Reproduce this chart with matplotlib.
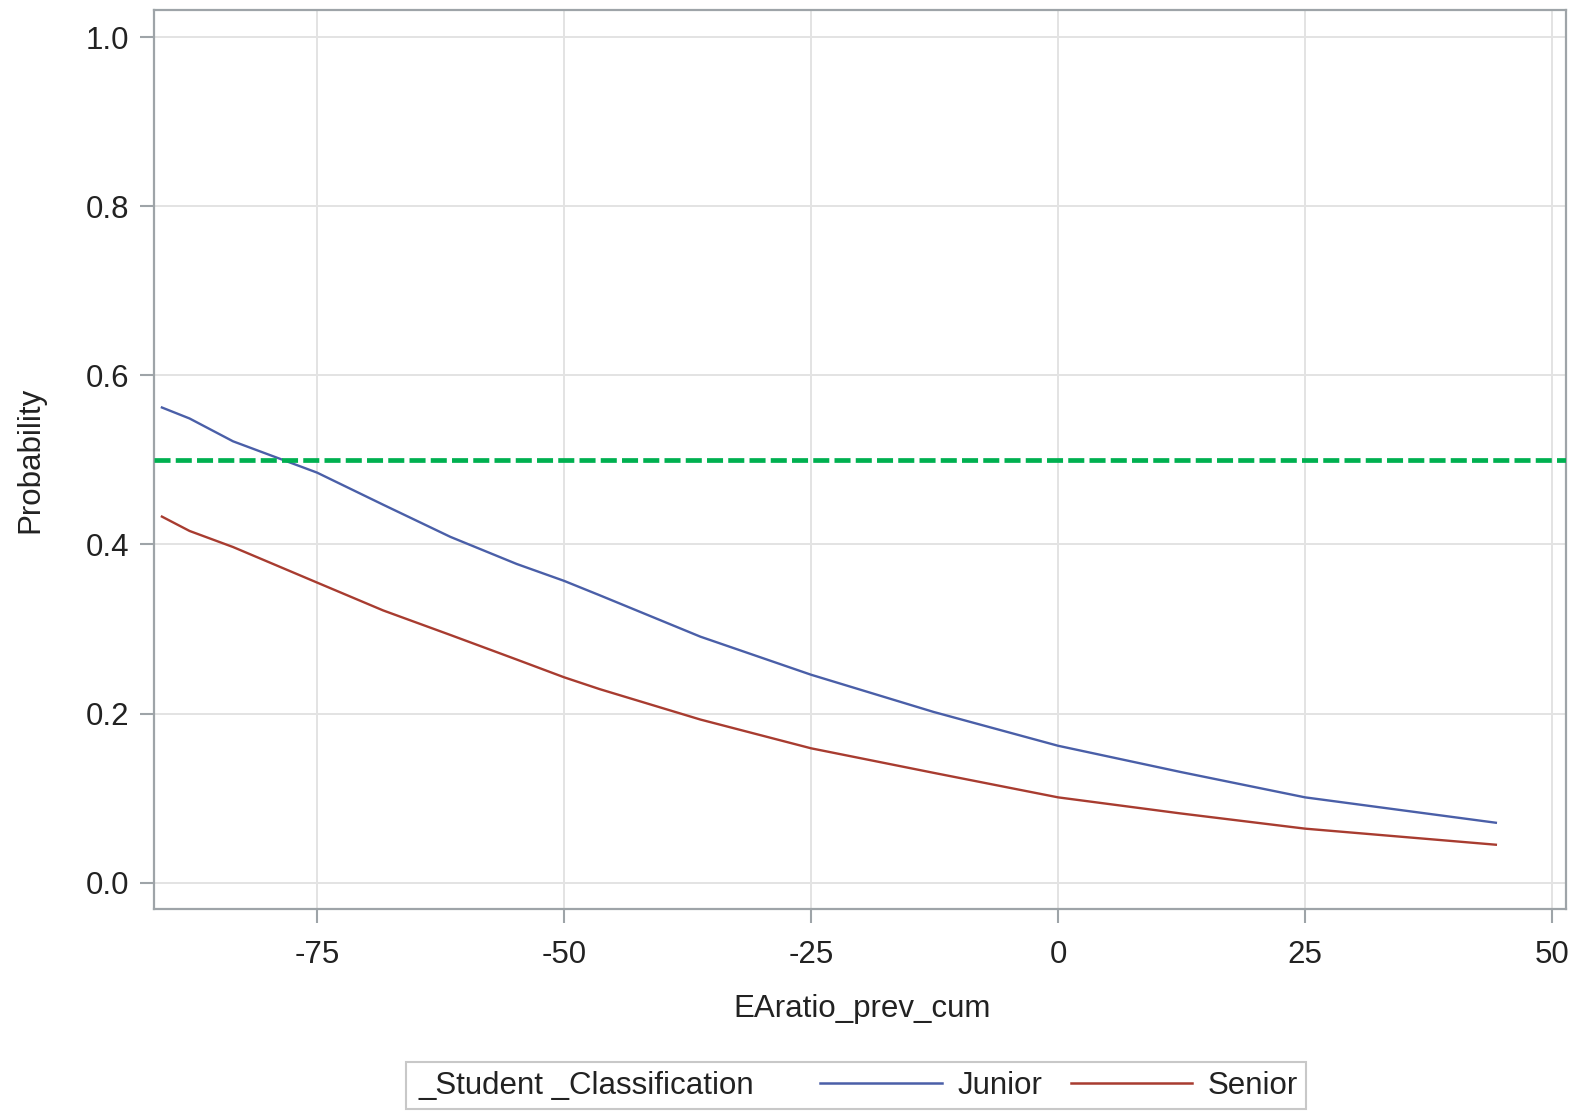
import matplotlib
matplotlib.use("Agg")
import matplotlib.pyplot as plt
from matplotlib.lines import Line2D
from matplotlib.patches import Rectangle

plt.rcParams['font.family'] = ['Liberation Sans', 'DejaVu Sans']

# values
ea_ratio = [-90.7, -87.9, -83.5, -75, -68.3, -61.5, -54.8, -50, -46.4, -36.2, -25, -12.6, 0, 12.4, 25, 44.3]
p_junior = [0.562, 0.549, 0.522, 0.485, 0.447, 0.409, 0.377, 0.357, 0.340, 0.291, 0.246, 0.202, 0.162, 0.131, 0.101, 0.071]
p_senior = [0.433, 0.416, 0.397, 0.355, 0.322, 0.293, 0.264, 0.243, 0.229, 0.193, 0.159, 0.130, 0.101, 0.082, 0.064, 0.045]
cutoff = 0.5
class_names = ['Junior', 'Senior']

xticks = [-75, -50, -25, 0, 25, 50]
yticks = [0.0, 0.2, 0.4, 0.6, 0.8, 1.0]

W, H = 1573, 1111
blue = '#4a5fa8'
red = '#a83c30'
frame_col = '#9ea4a8'
txt_col = '#222222'
fs = 22.5

fig = plt.figure(figsize=(W / 100, H / 100), dpi=100)
ax = fig.add_axes([154 / W, 1 - 909 / H, (1566 - 154) / W, (909 - 10) / H])

ax.plot(ea_ratio, p_junior, color=blue, lw=1.7, zorder=3)
ax.plot(ea_ratio, p_senior, color=red, lw=1.7, zorder=3)
ax.axhline(cutoff, color='#00b050', lw=3.4, dashes=(3.4, 1.1), zorder=4)

ax.set_xlim(-91.5, 51.4)
ax.set_ylim(-0.031, 1.032)
ax.set_xticks(xticks)
ax.set_xticklabels([str(t) for t in xticks])
ax.set_yticks(yticks)
ax.set_yticklabels(['%.1f' % t for t in yticks])

ax.grid(True, color='#e3e3e3', lw=1.4, zorder=0)
ax.set_axisbelow(True)
for s in ax.spines.values():
    s.set_color(frame_col)
    s.set_linewidth(1.6)
ax.tick_params(axis='both', colors=frame_col, labelcolor=txt_col, labelsize=fs,
               length=10, width=1.5)
ax.tick_params(axis='x', pad=12)
ax.tick_params(axis='y', pad=8)

ax.set_xlabel('EAratio_prev_cum', fontsize=fs, color=txt_col)
ax.set_ylabel('Probability', fontsize=fs, color=txt_col)
ax.xaxis.set_label_coords((862 - 154) / 1412, (909 - 994) / 899)
ax.yaxis.set_label_coords((45 - 154) / 1412, 0.5)

# legend box with inline title
fig.patches.append(Rectangle((406 / W, 1 - 1109 / H), (1306 - 406) / W, 47 / H,
                             transform=fig.transFigure, fill=False,
                             edgecolor='#c8c8c8', lw=1.5))
fig.text(418 / W, 1 - 1086 / H, '_Student _Classification', fontsize=fs,
         color=txt_col, ha='left', va='center')
handles = [Line2D([], [], color=blue, lw=1.8), Line2D([], [], color=red, lw=1.8)]
fig.legend(handles, class_names, loc='center left',
           bbox_to_anchor=(820 / W, 1 - 1086 / H), ncol=2, frameon=False,
           fontsize=fs, labelcolor=txt_col, borderpad=0, borderaxespad=0,
           handlelength=3.9, handletextpad=0.5, columnspacing=0.9)

fig.savefig('out.png', dpi=100)
